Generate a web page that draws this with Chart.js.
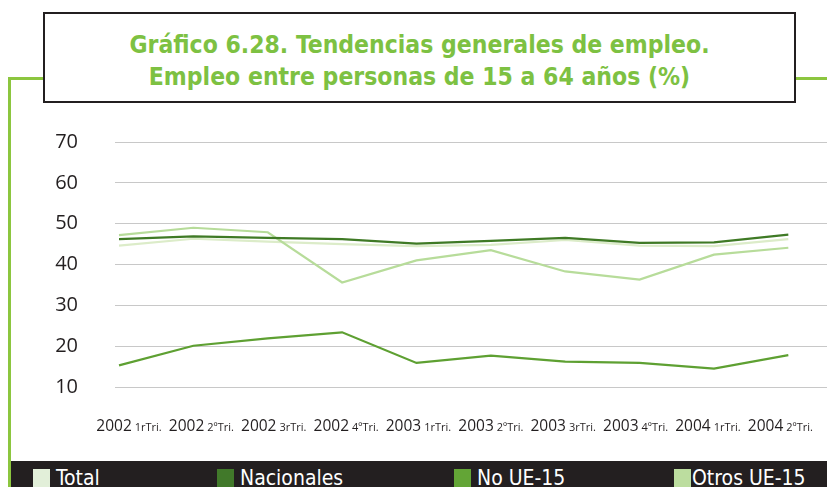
<!DOCTYPE html>
<html>
<head>
<meta charset="utf-8">
<script src="https://cdn.jsdelivr.net/npm/chart.js@4"></script>
<style>
  body { margin: 0; background: #fff; }
  #wrap { position: relative; width: 827px; height: 487px; overflow: hidden; font-family: "Open Sans", sans-serif; }
  #chart { position: absolute; left: 0; top: 0; }
  .gline { position: absolute; background: #8cc63f; }
  #titleBox {
    position: absolute; left: 43px; top: 12px; width: 753px; height: 91px;
    border: 2.5px solid #231f20; background: #fff;
    color: #7dc142; font-family: "Liberation Sans Narrow", "DejaVu Sans Condensed", sans-serif;
    font-weight: bold; font-size: 24.5px; line-height: 32px; text-align: center;
    box-sizing: border-box; padding-top: 15px;
  }
  #legendBar {
    position: absolute; left: 11px; top: 461px; width: 816px; height: 30px; background: #231f20;
  }
  .item { position: absolute; top: 0; color: #fff; font-family: "Liberation Sans Narrow", "DejaVu Sans Condensed", sans-serif; font-size: 21px; line-height: 34px; }
  .item span { position: absolute; top: 8px; width: 17px; height: 20px; }
</style>
</head>
<body>
<div id="wrap">
  <canvas id="chart" width="827" height="487"></canvas>
  <div class="gline" style="left:8px; top:77px; width:3px; height:410px;"></div>
  <div class="gline" style="left:8px; top:77px; width:36px; height:3px;"></div>
  <div class="gline" style="left:795px; top:77px; width:32px; height:3px;"></div>
  <div id="titleBox">Gráfico 6.28. Tendencias generales de empleo.<br>Empleo entre personas de 15 a 64 años (%)</div>
  <div id="legendBar"></div>
</div>
<script>
const years = ["2002", "2002", "2002", "2002", "2003", "2003", "2003", "2003", "2004", "2004"];
const quarters = ["1rTri.", "2ºTri.", "3rTri.", "4ºTri.", "1rTri.", "2ºTri.", "3rTri.", "4ºTri.", "1rTri.", "2ºTri."];

const seriesNames = ["Total", "Nacionales", "No UE-15", "Otros UE-15"];
const seriesColors = ["#dcecc9", "#3f7a25", "#5ea032", "#b7dc9a"];
const legendColors = ["#e2efd9", "#41792a", "#63a536", "#bcdd9f"];

const total = [44.6, 46.3, 45.6, 45.0, 44.5, 44.8, 46.0, 44.6, 44.5, 46.2];
const nacionales = [46.2, 46.9, 46.5, 46.2, 45.1, 45.8, 46.5, 45.3, 45.4, 47.3];
const noUE15 = [15.3, 20.1, 21.9, 23.4, 15.9, 17.7, 16.2, 15.9, 14.5, 17.8];
const otrosUE15 = [47.2, 49.0, 47.9, 35.6, 41.0, 43.5, 38.3, 36.3, 42.4, 44.1];

const yTicks = [10, 20, 30, 40, 50, 60, 70];

const allSeries = [total, nacionales, noUE15, otrosUE15];

// legend in the dark bar
const legendPos = [33, 217, 454, 674];
const bar = document.getElementById("legendBar");
seriesNames.forEach((name, i) => {
  const it = document.createElement("div");
  it.className = "item";
  it.style.left = (legendPos[i] - 11) + "px";
  it.style.paddingLeft = (i == 3 ? 18 : 23) + "px";
  it.innerHTML = `<span style="left:0;background:${legendColors[i]}"></span>${name}`;
  bar.appendChild(it);
});

// x labels: year large, quarter small
const xLabels = {
  id: "xLabels",
  afterDraw(chart) {
    const ctx = chart.ctx;
    const x = chart.scales.x;
    ctx.save();
    ctx.fillStyle = "#231f20";
    ctx.textBaseline = "alphabetic";
    years.forEach((yr, i) => {
      ctx.font = "15.5px 'Open Sans'";
      const w1 = ctx.measureText(yr).width;
      ctx.font = "11px 'Open Sans'";
      const w2 = ctx.measureText(quarters[i]).width;
      const cx = x.getPixelForValue(i) + 10 - i * 2;
      let left = cx - (w1 + 3 + w2) / 2;
      ctx.font = "15.5px 'Open Sans'";
      ctx.fillText(yr, left, 431);
      ctx.font = "11px 'Open Sans'";
      ctx.fillText(quarters[i], left + w1 + 3, 431);
    });
    ctx.restore();
  }
};

new Chart(document.getElementById("chart"), {
  type: "line",
  data: {
    datasets: allSeries.map((vals, i) => ({
      label: seriesNames[i],
      data: vals.map((v, j) => ({ x: j, y: v })),
      borderColor: seriesColors[i],
      backgroundColor: seriesColors[i],
      borderWidth: 2.2,
      pointRadius: 0,
      tension: 0,
      order: i == 0 ? 3 : (i == 1 ? 1 : 2)
    }))
  },
  options: {
    responsive: false,
    animation: false,
    layout: { padding: { left: 0, right: 0, top: 142, bottom: 92 } },
    plugins: { legend: { display: false }, tooltip: { enabled: false } },
    scales: {
      x: {
        type: "linear",
        min: -0.054,
        max: 9.52,
        grid: { display: false },
        border: { display: false },
        ticks: { display: false }
      },
      y: {
        min: 10,
        max: 70,
        afterFit: s => { s.width = 115; },
        afterBuildTicks: s => { s.ticks = yTicks.map(v => ({ value: v })); },
        grid: { color: "#c8c8c8", lineWidth: 1, drawTicks: false },
        border: { display: false },
        ticks: { color: "#231f20", font: { family: "Open Sans", size: 20 }, padding: 37 }
      }
    }
  },
  plugins: [xLabels]
});
</script>
</body>
</html>
